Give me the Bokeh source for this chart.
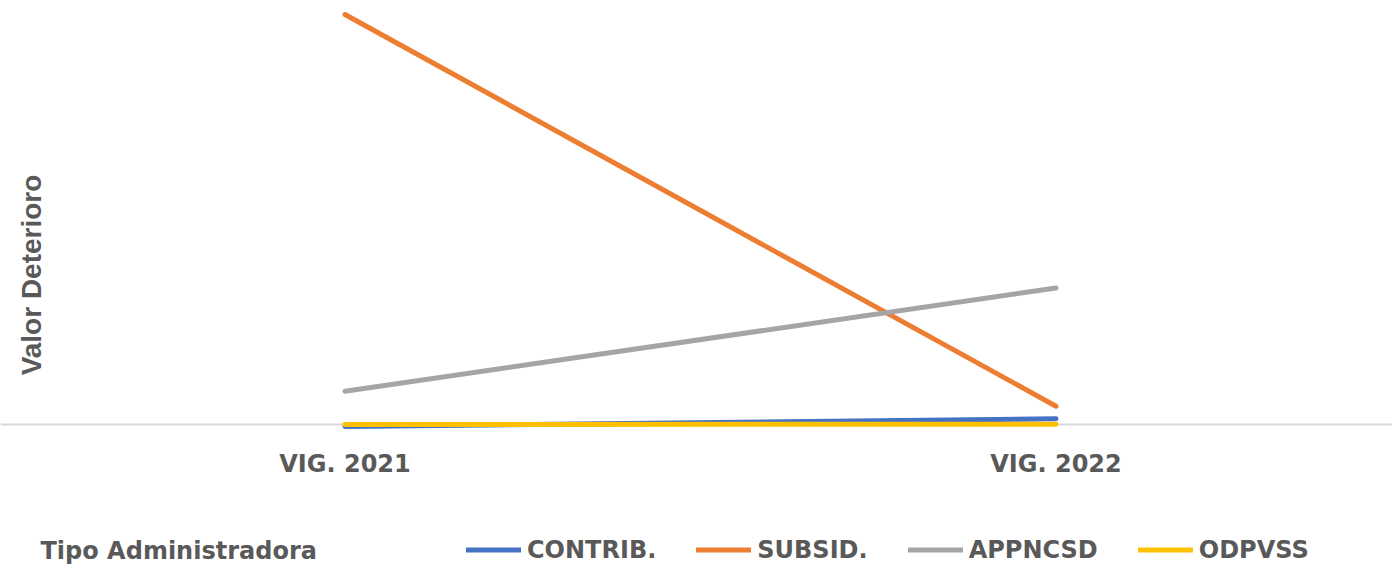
from bokeh.plotting import figure
from bokeh.models import Range1d, Legend, LegendItem, FixedTicker, Span, Label
from bokeh.embed import file_html
from bokeh.resources import INLINE

# ---- data ----
categories = ["VIG. 2021", "VIG. 2022"]
series_names = ["CONTRIB.", "SUBSID.", "APPNCSD", "ODPVSS"]
contrib = [-0.20, 0.57]
subsid = [41.0, 1.83]
appncsd = [3.33, 13.65]
odpvss = [0.0, 0.03]
series_colors = ["#4472C4", "#ED7D31", "#A5A5A5", "#FFC000"]

y_title = "Valor Deterioro"
legend_title = "Tipo Administradora"

TXT = "#595959"
GEOM_FONT = "DejaVu Sans"
ARIAL = "Liberation Sans"

W, H = 1392, 565
xs = list(range(len(categories)))
X0 = -344.5 / 711

p = figure(width=W, height=H,
           x_range=Range1d(X0, 1 + (W - 1055.5) / 711), y_range=Range1d(-14.1, 42.4),
           output_backend="svg", toolbar_location=None,
           min_border=0, min_border_left=0, min_border_right=0,
           min_border_top=0, min_border_bottom=0)
p.outline_line_color = None
p.xgrid.visible = False
p.ygrid.visible = False
p.background_fill_color = "white"
p.border_fill_color = "white"

# zero line
p.add_layout(Span(location=0, dimension="width", line_color="#D9D9D9",
                  line_width=2, level="underlay"))

# x axis: category labels under the zero line
xa = p.xaxis[0]
xa.fixed_location = 0
xa.ticker = FixedTicker(ticks=xs)
xa.major_label_overrides = {i: c for i, c in zip(xs, categories)}
xa.axis_line_color = None
xa.major_tick_line_color = None
xa.minor_tick_line_color = None
xa.major_tick_out = 0
xa.major_tick_in = 0
xa.major_label_standoff = 25
xa.major_label_text_font = GEOM_FONT
xa.major_label_text_font_style = "bold"
xa.major_label_text_font_size = "24px"
xa.major_label_text_color = TXT

# y axis: title only
ya = p.yaxis[0]
ya.fixed_location = X0 + 46 / 711
ya.bounds = (0, 29.9)
ya.ticker = FixedTicker(ticks=[])
ya.axis_line_color = None
ya.major_tick_line_color = None
ya.minor_tick_line_color = None
ya.major_tick_out = 0
ya.major_tick_in = 0
ya.axis_label = y_title
ya.axis_label_standoff = 0
ya.axis_label_text_font = ARIAL
ya.axis_label_text_font_style = "bold"
ya.axis_label_text_font_size = "28px"
ya.axis_label_text_color = TXT

renderers = []
for name, vals, col in zip(series_names, [contrib, subsid, appncsd, odpvss], series_colors):
    r = p.line(xs, vals, line_color=col, line_width=5, line_cap="round", line_join="round")
    renderers.append(r)

items = [LegendItem(label=n, renderers=[r]) for n, r in zip(series_names, renderers)]
legend = Legend(items=items, orientation="horizontal", location=(466, 1),
                glyph_width=55, glyph_height=29, label_standoff=6, spacing=40,
                label_text_font=GEOM_FONT, label_text_font_style="bold",
                label_text_font_size="24px", label_text_color=TXT,
                background_fill_alpha=0, border_line_color=None,
                padding=0, margin=0)
p.add_layout(legend, "center")
p.add_layout(Label(x=40, y=15, x_units="screen", y_units="screen", text=legend_title,
                   text_font=GEOM_FONT, text_font_style="bold", text_font_size="24px",
                   text_color=TXT, text_baseline="middle"))

open("out.html", "w").write(file_html(p, INLINE))
